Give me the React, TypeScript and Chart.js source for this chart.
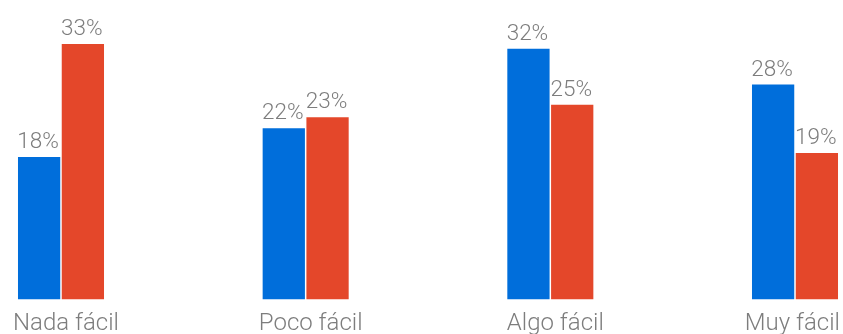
import React, { useEffect, useRef } from "react";
import { Chart, registerables } from "chart.js";

Chart.register(...registerables);

const categories = ["Nada fácil", "Poco fácil", "Algo fácil", "Muy fácil"];
const seriesBlue = [18.3, 22.0, 32.2, 27.6];
const seriesRed = [32.8, 23.4, 25.0, 18.8];
const seriesNames = ["Serie 1", "Serie 2"];
const yMin = 0;
const yMax = 35;

const TEXT_COLOR = "#7d7d7d";
const FONT_FAMILY = "Roboto, 'Noto Sans', sans-serif";

const valueLabelPlugin = {
  id: "valueLabels",
  afterDatasetsDraw(chart: any) {
    const ctx = chart.ctx;
    ctx.save();
    ctx.font = `300 22.5px ${FONT_FAMILY}`;
    ctx.fillStyle = TEXT_COLOR;
    ctx.textAlign = "center";
    ctx.textBaseline = "alphabetic";
    chart.data.datasets.forEach((ds: any, di: number) => {
      const meta = chart.getDatasetMeta(di);
      meta.data.forEach((el: any, i: number) => {
        const v = ds.data[i];
        ctx.fillText(`${Math.round(v)}%`, el.x - 1, el.y - 9);
      });
    });
    ctx.restore();
  },
};

const categoryLabelPlugin = {
  id: "categoryLabels",
  afterDraw(chart: any) {
    const ctx = chart.ctx;
    const xScale = chart.scales.x;
    ctx.save();
    ctx.font = `300 24px ${FONT_FAMILY}`;
    ctx.fillStyle = TEXT_COLOR;
    ctx.textAlign = "center";
    ctx.textBaseline = "alphabetic";
    const labels = chart.data.labels as string[];
    labels.forEach((lab, i) => {
      const w = ctx.measureText(lab).width;
      let x = xScale.getPixelForValue(i) + 5;
      x = Math.min(x, chart.width - 3 - w / 2);
      ctx.fillText(lab, x, 330);
    });
    ctx.restore();
  },
};

export default function App() {
  const ref = useRef<HTMLCanvasElement | null>(null);

  useEffect(() => {
    document.body.style.margin = "0";
    if (!ref.current) return;
    const chart = new Chart(ref.current, {
      type: "bar",
      data: {
        labels: categories,
        datasets: [
          {
            label: seriesNames[0],
            data: seriesBlue,
            backgroundColor: "#006edb",
            borderWidth: 0,
            clip: false,
          },
          {
            label: seriesNames[1],
            data: seriesRed,
            backgroundColor: "#e4472a",
            borderWidth: 0,
            clip: false,
          },
        ],
      },
      options: {
        animation: false,
        responsive: true,
        maintainAspectRatio: false,
        datasets: {
          bar: {
            categoryPercentage: 0.3577,
            barPercentage: 0.966,
          },
        },
        layout: {
          padding: { left: 61, right: 48, top: 27, bottom: 34.7 },
        },
        plugins: {
          legend: { display: false },
          tooltip: { enabled: false },
        },
        scales: {
          x: {
            offset: false,
            display: true,
            grid: { display: false, drawTicks: false },
            border: { display: false },
            ticks: { display: false },
          },
          y: {
            display: false,
            min: yMin,
            max: yMax,
          },
        },
      },
      plugins: [valueLabelPlugin, categoryLabelPlugin],
    });
    return () => chart.destroy();
  }, []);

  return (
    <div style={{ position: "fixed", left: 0, top: 0, width: 843, height: 334 }}>
      <canvas ref={ref} />
    </div>
  );
}
